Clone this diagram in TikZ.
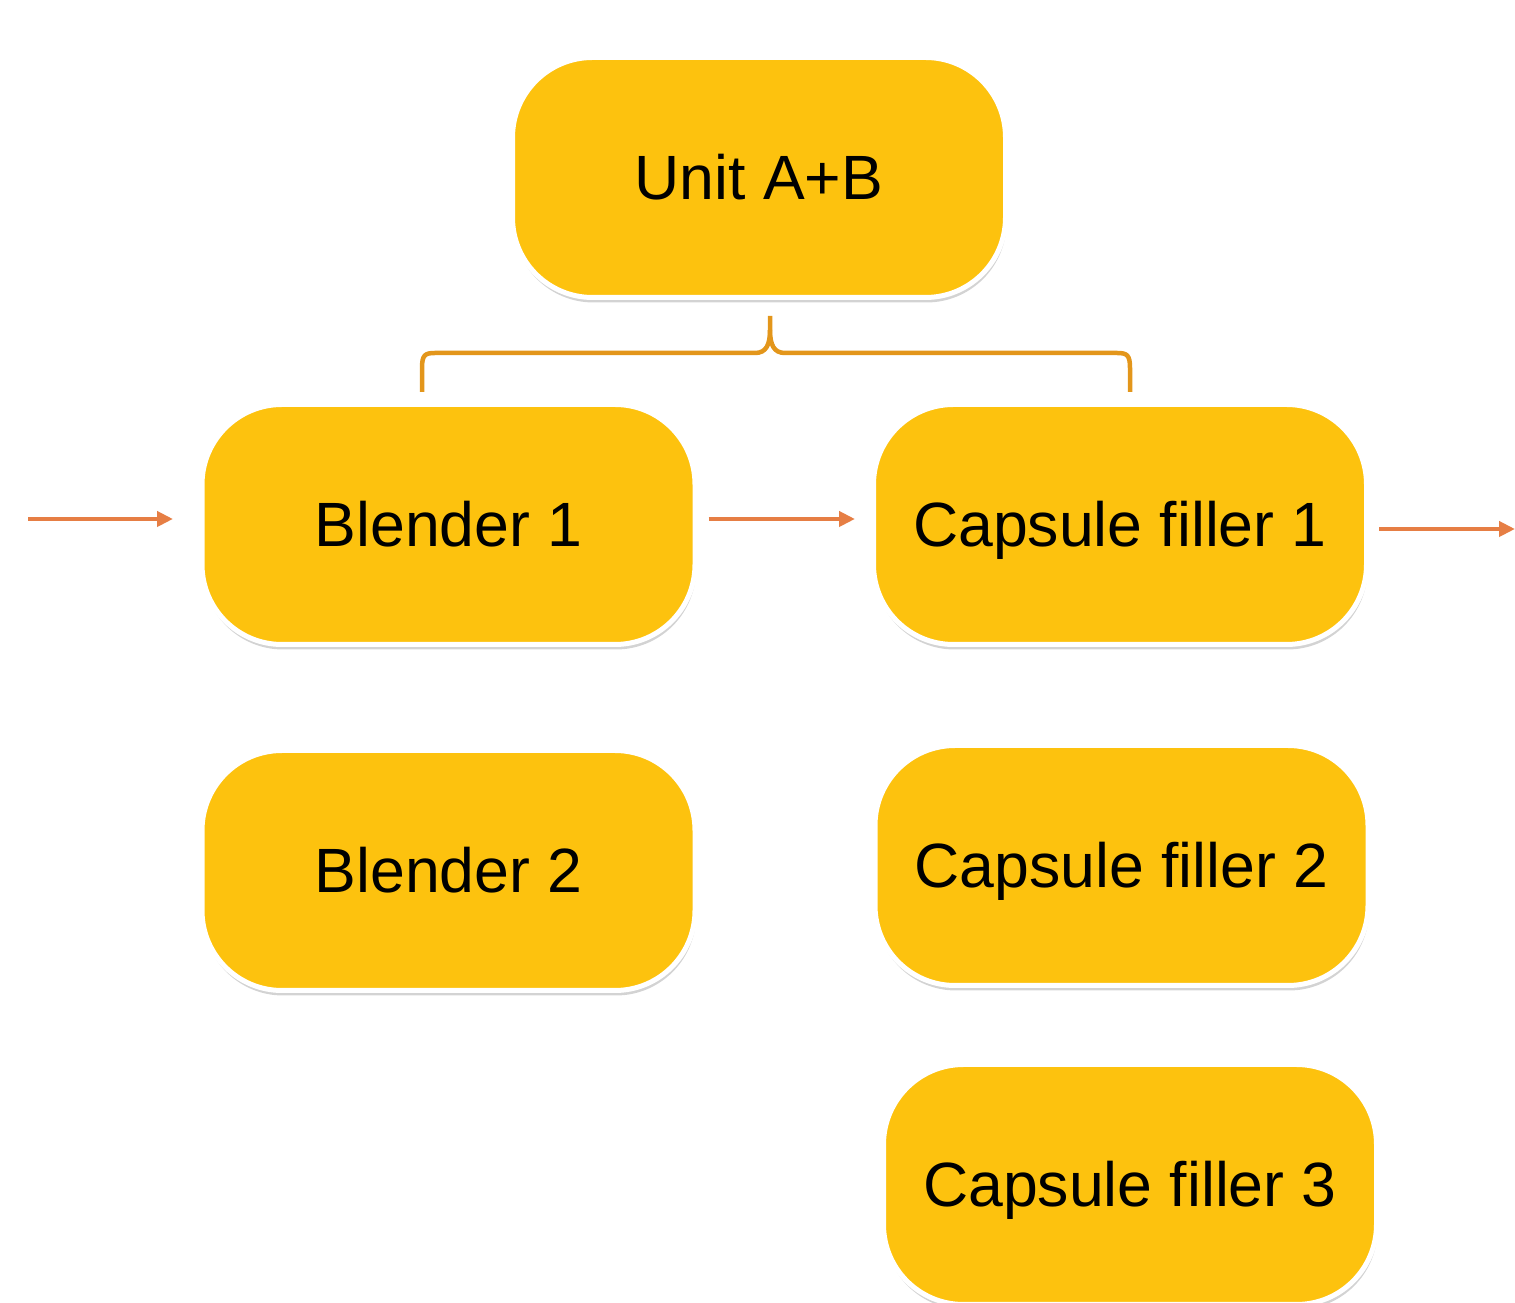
\documentclass[tikz,border=0pt]{standalone}
\usepackage{fontspec}
\setmainfont{Liberation Sans}
\usetikzlibrary{shadows,arrows.meta}
\definecolor{boxfill}{RGB}{253,194,14}
\definecolor{bracecol}{RGB}{227,150,27}
\definecolor{arrowcol}{RGB}{230,126,68}
\tikzset{
  unitbox/.style={draw=white, line width=0.05cm, fill=boxfill, rounded corners=0.8cm,
    minimum width=4.93cm, minimum height=2.40cm, inner sep=0pt,
    text height=0.45cm, text depth=0pt,
    font=\fontsize{17.8pt}{20pt}\selectfont,
    drop shadow={shadow xshift=0.01cm, shadow yshift=-0.05cm, opacity=0.35, fill=gray}},
  flowarrow/.style={draw=arrowcol, line width=0.045cm, -{Triangle[length=0.16cm,width=0.15cm]}},
  bracestyle/.style={draw=bracecol, line width=0.045cm}
}
\begin{document}
\begin{tikzpicture}
\useasboundingbox (0,0) rectangle (15.15,-13.03);
\node[unitbox] (unit) at (7.59,-1.775) {Unit A+B};
\node[unitbox] (b1) at (4.485,-5.245) {Blender 1};
\node[unitbox] (c1) at (11.20,-5.245) {Capsule filler 1};
\node[unitbox] (b2) at (4.485,-8.705) {Blender 2};
\node[unitbox] (c2) at (11.215,-8.655) {Capsule filler 2};
\node[unitbox] (c3) at (11.30,-11.845) {Capsule filler 3};
% brace
\coordinate (tip) at (7.70,-3.16);
\coordinate (bl) at (4.22,-3.92);
\coordinate (br) at (11.30,-3.92);
\draw[bracestyle] (bl) -- (4.22,-3.68) .. controls (4.22,-3.55) and (4.25,-3.53) .. (4.35,-3.53)
  -- (7.55,-3.53) .. controls (7.66,-3.53) and (7.70,-3.45) .. (7.70,-3.30) -- (tip);
\draw[bracestyle] (br) -- (11.30,-3.68) .. controls (11.30,-3.55) and (11.27,-3.53) .. (11.17,-3.53)
  -- (7.85,-3.53) .. controls (7.74,-3.53) and (7.70,-3.45) .. (7.70,-3.30);
% arrows
\coordinate (inL) at (0.28,-5.19);
\coordinate (inR) at (1.73,-5.19);
\coordinate (outR) at (15.15,-5.29);
\draw[flowarrow] (inL) -- (inR);
\draw[flowarrow] (b1.east |- 0,-5.19) ++(0.11,0) -- (8.55,-5.19);
\draw[flowarrow] (c1.east |- 0,-5.29) ++(0.10,0) -- (outR);
\end{tikzpicture}
\end{document}
